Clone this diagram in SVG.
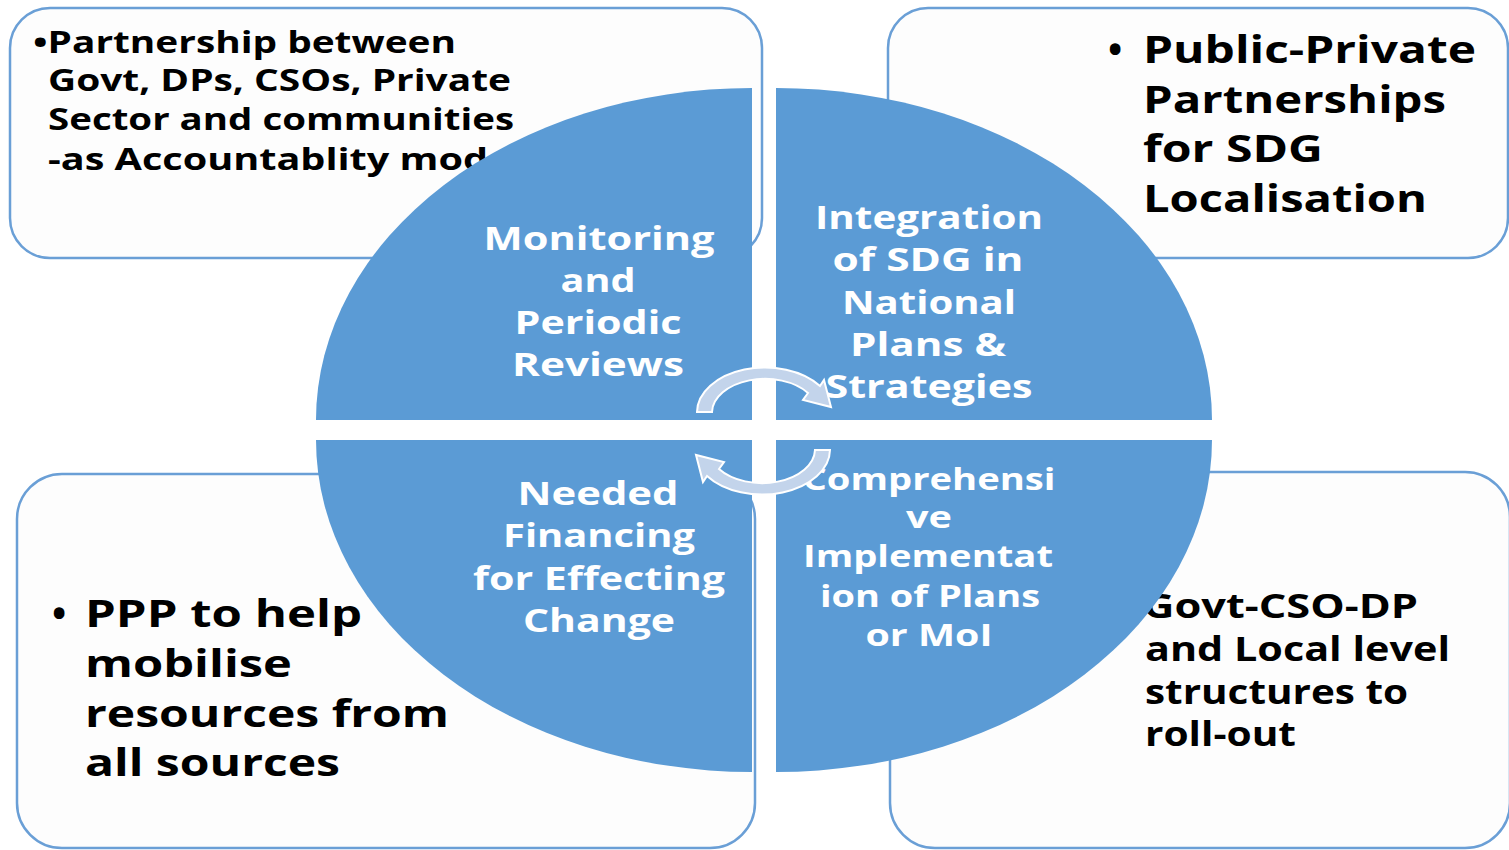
<svg xmlns="http://www.w3.org/2000/svg" width="1509" height="850" viewBox="0 0 1509 850">
<style>
.box{fill:#fdfdfd;stroke:#6a9fd6;stroke-width:2.5}
.q{fill:#5b9bd5}
.bt{font-family:"Open Sans","Liberation Sans",sans-serif;font-weight:bold;fill:#000}
.wt{font-family:"Open Sans","Liberation Sans",sans-serif;font-weight:bold;fill:#fff;font-size:33px;text-anchor:middle}
.arr{fill:#c3d4eb;stroke:#fff;stroke-width:2}
</style>
<rect width="1509" height="850" fill="#fff"/>
<g id="box-tl">
<rect class="box" x="10" y="8" width="752" height="250" rx="40"/>
<text class="bt" font-size="30"><tspan x="33" y="53" textLength="423" lengthAdjust="spacingAndGlyphs">•Partnership between</tspan><tspan x="48" y="91" textLength="463" lengthAdjust="spacingAndGlyphs">Govt, DPs, CSOs, Private</tspan><tspan x="48" y="130" textLength="466" lengthAdjust="spacingAndGlyphs">Sector and communities</tspan><tspan x="48" y="170" textLength="440" lengthAdjust="spacingAndGlyphs">-as Accountablity mod</tspan></text>
</g>
<g id="box-tr">
<rect class="box" x="888" y="8" width="620" height="250" rx="40"/>
<text class="bt" font-size="38" x="1108" y="63">•</text>
<text class="bt" font-size="38"><tspan x="1143" y="63" textLength="333" lengthAdjust="spacingAndGlyphs">Public-Private</tspan><tspan x="1143" y="113" textLength="303" lengthAdjust="spacingAndGlyphs">Partnerships</tspan><tspan x="1143" y="162" textLength="180" lengthAdjust="spacingAndGlyphs">for SDG</tspan><tspan x="1143" y="212" textLength="284" lengthAdjust="spacingAndGlyphs">Localisation</tspan></text>
</g>
<g id="box-bl">
<rect class="box" x="17" y="474" width="738" height="374" rx="45"/>
<text class="bt" font-size="38" x="52" y="627">•</text>
<text class="bt" font-size="38"><tspan x="85" y="627" textLength="277" lengthAdjust="spacingAndGlyphs">PPP to help</tspan><tspan x="85" y="677" textLength="207" lengthAdjust="spacingAndGlyphs">mobilise</tspan><tspan x="85" y="727" textLength="364" lengthAdjust="spacingAndGlyphs">resources from</tspan><tspan x="85" y="776" textLength="255" lengthAdjust="spacingAndGlyphs">all sources</tspan></text>
</g>
<g id="box-br">
<rect class="box" x="890" y="472" width="620" height="376" rx="45"/>
<text class="bt" font-size="34"><tspan x="1143" y="618" textLength="275" lengthAdjust="spacingAndGlyphs">Govt-CSO-DP</tspan><tspan x="1145" y="661" textLength="305" lengthAdjust="spacingAndGlyphs">and Local level</tspan><tspan x="1145" y="704" textLength="263" lengthAdjust="spacingAndGlyphs">structures to</tspan><tspan x="1145" y="746" textLength="151" lengthAdjust="spacingAndGlyphs">roll-out</tspan></text>
</g>
<g id="q-tl">
<path class="q" d="M752,420 L316,420 A436,332 0 0 1 752,88 Z"/>
<text class="wt"><tspan x="599" y="250" textLength="231" lengthAdjust="spacingAndGlyphs">Monitoring</tspan><tspan x="598" y="292" textLength="75" lengthAdjust="spacingAndGlyphs">and</tspan><tspan x="598" y="334" textLength="167" lengthAdjust="spacingAndGlyphs">Periodic</tspan><tspan x="598" y="376" textLength="172" lengthAdjust="spacingAndGlyphs">Reviews</tspan></text>
</g>
<g id="q-tr">
<path class="q" d="M776,420 L776,88 A436,332 0 0 1 1212,420 Z"/>
<text class="wt"><tspan x="929" y="229" textLength="228" lengthAdjust="spacingAndGlyphs">Integration</tspan><tspan x="928" y="271" textLength="191" lengthAdjust="spacingAndGlyphs">of SDG in</tspan><tspan x="929" y="314" textLength="174" lengthAdjust="spacingAndGlyphs">National</tspan><tspan x="928" y="356" textLength="156" lengthAdjust="spacingAndGlyphs">Plans &amp;</tspan><tspan x="929" y="398" textLength="207" lengthAdjust="spacingAndGlyphs">Strategies</tspan></text>
</g>
<g id="q-bl">
<path class="q" d="M752,440 L752,772 A436,332 0 0 1 316,440 Z"/>
<text class="wt"><tspan x="598" y="505" textLength="161" lengthAdjust="spacingAndGlyphs">Needed</tspan><tspan x="599" y="547" textLength="192" lengthAdjust="spacingAndGlyphs">Financing</tspan><tspan x="599" y="590" textLength="252" lengthAdjust="spacingAndGlyphs">for Effecting</tspan><tspan x="599" y="632" textLength="152" lengthAdjust="spacingAndGlyphs">Change</tspan></text>
</g>
<g id="q-br">
<path class="q" d="M776,440 L1212,440 A436,332 0 0 1 776,772 Z"/>
<text class="wt" style="font-size:31px"><tspan x="929" y="490" textLength="253" lengthAdjust="spacingAndGlyphs">Comprehensi</tspan><tspan x="929" y="528" textLength="46" lengthAdjust="spacingAndGlyphs">ve</tspan><tspan x="928" y="567" textLength="250" lengthAdjust="spacingAndGlyphs">Implementat</tspan><tspan x="930" y="607" textLength="220" lengthAdjust="spacingAndGlyphs">ion of Plans</tspan><tspan x="929" y="646" textLength="127" lengthAdjust="spacingAndGlyphs">or MoI</tspan></text>
</g>
<g id="connectors">
<path id="arrow-top" class="arr" d="M697,412 A68,45 0 0 1 820,386 L824,380 L831,407 L803,400 L808,393 A53,34 0 0 0 712,412 Z"/>
<path id="arrow-bottom" class="arr" d="M697,412 A68,45 0 0 1 820,386 L824,380 L831,407 L803,400 L808,393 A53,34 0 0 0 712,412 Z" transform="rotate(180 763.5 431)"/>
</g>
</svg>
